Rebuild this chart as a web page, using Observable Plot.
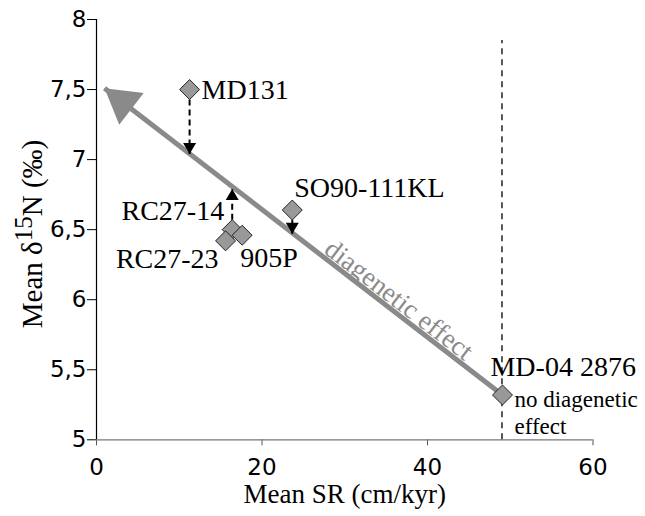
<!DOCTYPE html>
<html><head><meta charset="utf-8">
<script src="https://cdn.jsdelivr.net/npm/d3@7"></script>
<script src="https://cdn.jsdelivr.net/npm/@observablehq/plot@0.6"></script>
<style>body{margin:0;background:#fff}</style>
</head><body><div id="chart"></div>
<script>
// ---- data ----
const cores    = ["MD131", "RC27-14", "RC27-23", "905P", "SO90-111KL", "MD-04 2876"];
const meanSR   = [11.25, 16.4, 15.6, 17.6, 23.66, 49.06];   // cm/kyr
const meanD15N = [7.50, 6.50, 6.42, 6.46, 6.64, 5.32];       // permil

// corrected (arrow target) values for cores with a diagenetic shift
const shiftedCores  = ["MD131", "RC27-14", "SO90-111KL"];
const shiftedTarget = [7.04, 6.79, 6.47];

// trend arrow "diagenetic effect": start (MD-04 2876) -> tip
const trendSR   = [49.06, 0.97];
const trendD15N = [5.32, 7.51];

// reference line: no diagenetic effect
const noEffectSR = [49.0];
const noEffectTop = 7.85;

const xTicks = [0, 20, 40, 60];
const yTicks = [5, 5.5, 6, 6.5, 7, 7.5, 8];

const points = cores.map((c, i) => ({core: c, sr: meanSR[i], n: meanD15N[i]}));
const shifts = shiftedCores.map((c, i) => {
  const p = points.find(d => d.core === c);
  return {core: c, x: p.sr, y1: p.n, y2: shiftedTarget[i]};
});
const trend = [{x1: trendSR[0], y1: trendD15N[0], x2: trendSR[1], y2: trendD15N[1]}];
const diagLabel = [{x: 35.9, y: 5.95, text: "diagenetic effect"}];

// label placement (style)
const labelStyle = {
  "MD131":      {anchor: "start", dx: 12,  dy: 0},
  "RC27-14":    {anchor: "end",   dx: -8,  dy: -18.5},
  "RC27-23":    {anchor: "end",   dx: -7,  dy: 18},
  "905P":       {anchor: "start", dx: -2,  dy: 23},
  "SO90-111KL": {anchor: "start", dx: 2,   dy: -22},
  "MD-04 2876": {anchor: "start", dx: -12, dy: -28}
};
const serif = "Liberation Serif, Times New Roman, serif";
const sans = "DejaVu Sans, sans-serif";
const comma = d => String(d).replace(".", ",");

const labelMarks = cores.map(c => Plot.text(points.filter(d => d.core === c), {
  x: "sr", y: "n", text: "core", textAnchor: labelStyle[c].anchor,
  dx: labelStyle[c].dx, dy: labelStyle[c].dy,
  fontFamily: serif, fontSize: 28, fill: "black"
}));

const plot = Plot.plot({
  width: 645, height: 516,
  marginLeft: 96, marginRight: 52.5, marginTop: 19, marginBottom: 76.7,
  style: {fontFamily: sans, fontSize: "23px", background: "white", overflow: "visible"},
  x: {domain: [0, 60]},
  y: {domain: [5, 8]},
  marks: [
    Plot.axisX({ticks: xTicks, tickFormat: comma, tickSize: 6, tickPadding: 13, stroke: "#555", fill: "black", fontSize: 23, label: null}),
    Plot.axisY({ticks: yTicks, tickFormat: comma, tickSize: 9, tickPadding: 1, stroke: "black", fill: "black", fontSize: 23, label: null}),
    Plot.ruleY([5], {stroke: "#777", strokeWidth: 1.2}),
    Plot.ruleX([0], {y1: 5, y2: 8, stroke: "black", strokeWidth: 1.2}),
    Plot.ruleX(noEffectSR, {y1: 5, y2: noEffectTop, stroke: "black", strokeWidth: 1.3, strokeDasharray: "6,5"}),
    Plot.link(trend, {x1: "x1", y1: "y1", x2: "x2", y2: "y2", stroke: "#8a8a8a", strokeWidth: 5}),
    Plot.text(diagLabel, {x: "x", y: "y", text: "text", rotate: 37.6, textAnchor: "middle", lineAnchor: "bottom",
      fill: "#8a8a8a", fontFamily: serif, fontSize: 27}),
    Plot.link(shifts, {x1: "x", y1: "y1", x2: "x", y2: "y2", stroke: "black", strokeWidth: 2, strokeDasharray: "6,4"}),
    Plot.dot(points, {x: "sr", y: "n", symbol: "diamond2", r: 9, fill: "#999", stroke: "#222", strokeWidth: 1}),
    ...labelMarks,
    Plot.text(points.filter(d => d.core === "MD-04 2876"), {x: "sr", y: "n", text: () => "no diagenetic\neffect",
      textAnchor: "start", lineAnchor: "top", lineHeight: 1.19, dx: 12, dy: -7.3,
      fontFamily: serif, fontSize: 23, fill: "black"}),
    Plot.text(["Mean SR (cm/kyr)"], {frameAnchor: "bottom", dy: 63, fontFamily: serif, fontSize: 27, fill: "black"})
  ]
});

const svg = d3.select(plot);
const defs = svg.insert("defs", ":first-child");
defs.append("marker").attr("id", "bighead").attr("markerUnits", "userSpaceOnUse")
  .attr("markerWidth", 36).attr("markerHeight", 42).attr("refX", 34).attr("refY", 20)
  .attr("orient", "auto").attr("overflow", "visible")
  .append("path").attr("d", "M0,0L34,20L0,40Z").attr("fill", "#8a8a8a");
defs.append("marker").attr("id", "smallhead").attr("markerUnits", "userSpaceOnUse")
  .attr("markerWidth", 13).attr("markerHeight", 14).attr("refX", 11).attr("refY", 6.5)
  .attr("orient", "auto").attr("overflow", "visible")
  .append("path").attr("d", "M0,0L11,6.5L0,13Z").attr("fill", "black");
const linkGroups = svg.selectAll('g[aria-label="link"]').nodes();
if (linkGroups[0]) d3.select(linkGroups[0]).selectAll("path").attr("marker-end", "url(#bighead)");
if (linkGroups[1]) d3.select(linkGroups[1]).selectAll("path").attr("marker-end", "url(#smallhead)");

// y-axis title with superscript
const yt = svg.append("text").attr("transform", "translate(42,234) rotate(-90)")
  .attr("text-anchor", "middle").attr("font-family", serif).attr("font-size", 29).attr("fill", "black");
yt.append("tspan").text("Mean δ");
yt.append("tspan").attr("font-size", 25).attr("dy", -10).text("15");
yt.append("tspan").attr("dy", 10).text("N (‰)");

document.getElementById("chart").appendChild(plot);
</script>
</body></html>
